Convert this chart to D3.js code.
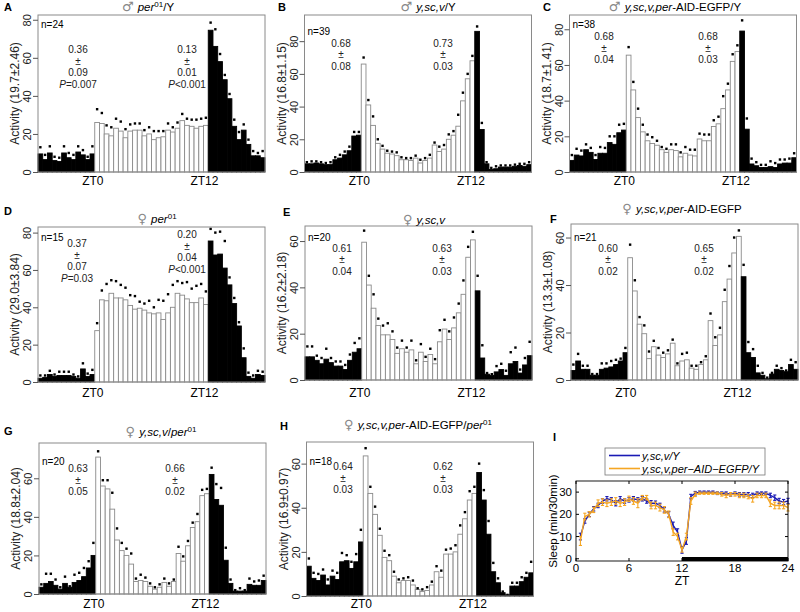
<!DOCTYPE html>
<html><head><meta charset="utf-8">
<script src="https://cdn.jsdelivr.net/npm/d3@7"></script>
<style>
body{margin:0;background:#fff}
text{font-family:"Liberation Sans",Arial,Helvetica,sans-serif}
</style>
</head><body>
<svg id="c" width="800" height="612"></svg>
<script>
// ---------- DATA ----------
const xTickLabels = ["ZT0","ZT12"];

const barsA = [9.5,6.5,10,6,5.5,10,7.5,6.5,10.5,9,6.5,9.5, 26,25.5,20,19,23,21.5,18,21.5,22,22,19,20,17,18,18.5,22,21,23,27,24.5,24,23,24,24.5, 74.5,66,58,48.5,38.5,24,17,22,14.5,8.5,8.5,7.5];
const dotsA = [13,9,13.5,8,7.5,13.5,10,9,13.5,11.5,8,13.5, 33,31,24.5,23.5,28,26.5,22.5,25,25.5,25.5,22,23.5,21.5,21.5,21.5,25.5,23.5,26,30.5,28,27.5,27.5,28,28.5, 78.5,75,62,51,41,27.5,21,25,17,11,10,11];

const barsB = [5,5,5.5,5,4.5,4.5,7.5,8.5,10.5,13,22,22.5, 66,41,28.5,17.5,14,11.5,11,10,7.5,7.5,7,8.5,5.5,7,8.5,16.5,12.5,14,20,22.5,28,43.5,57,68, 86,26,5,1.5,2,3,3,3,3.5,4,3.5,4.5];
const dotsB = [6,6.5,6.5,6,5.5,6,9,10.5,12.5,15.5,24.5,24.5, 70,44,34,20,16,13,12.5,12,9,8.5,8.5,10,7.5,8.5,10.5,18,15.5,16.5,23,25,35,48.5,60,71, 89,30,6,2.5,3.5,4,4,4,4.5,5,5,6];

const barsC = [6.5,9.5,9,12.5,11,7,10.5,10.5,16.5,15.5,22,23.5, 65.5,46,30.5,22.5,17.5,16,15,12.5,11,12.5,12,8.5,10.5,9.5,9,18.5,17.5,17.5,25.5,27,35.5,46,62,67.5, 79,24,4.5,3.5,2.5,2.5,3,2.5,4.5,5,5,8];
const dotsC = [9.5,13,12,15.5,13.5,9.5,14,13.5,20,20,26.5,27, 70,50.5,35.5,26.5,21,19.5,17.5,14,13,15.5,15.5,11,14,12.5,12.5,21.5,21,21,29,31,42.5,49.5,66,71, 85,30,7.5,5.5,4,4,6,5,7,7,7.5,10.5];

const barsD = [2,2.5,4,3,3.5,3.5,3.5,3,2,7,3,4, 27.5,44,43.5,47.5,45,45,44,41,39,39.5,38.5,37,36.5,37,33.5,37,40,47.5,46.5,44.5,42.5,42.5,45,41.5, 75.5,68,68.5,61,52,42,30,13,3,2,4,3.5];
const dotsD = [3.5,3.5,6,4,5.5,5.5,5.5,4,3,10,4.5,6.5, 31.5,49,52.5,54.5,54,52,50.5,46.5,46,43,42,43.5,40,44,43.5,47,52,54,53,53.5,50,51.5,52.5,48.5, 82,80,80.5,75.5,56,45,32,18,5,3.5,6,5.5];

const barsE = [10,10,8.5,7,9,7.5,6,6,4.5,8.5,12,13.5, 59.5,41,31,23.5,19.5,19.5,17.5,11.5,13.5,12,13,7,12,8,11,7,16.5,22,17.5,22.5,29,37,53,60.5, 38.5,9.5,2.5,2,3.5,4.5,2,7,8,3,6.5,10.5];
const dotsE = [14.5,14.5,10.5,9.5,13.5,9.5,8,8,6.5,11,16,18, 64.5,45,37,26.5,23.5,24.5,21,14,17,14,17,8.5,15.5,10,13.5,9,21.5,26,21,27,33,43,57.5,64, 45,15,3,2.5,6,7,4,12,14,4.5,9.5,16.5];

const barsF = [4,8,4.5,4.5,2,2,4.5,5,5.5,6.5,8,11.5, 51.5,37.5,23.5,19.5,9,14,10.5,9.5,11,15.5,6,8,8.5,5,4.5,6.5,8.5,25,14.5,19,33,42.5,53.5,60.5, 43.5,11.5,9.5,3,2,0.5,2.5,4.5,4,3.5,6.5,4.5];
const dotsF = [6.5,11,6,6,2.5,2.5,7,7,8,8.5,9,13.5, 57,42,26.5,23,12,16.5,13.5,11.5,12.5,17,7,11,11.5,6,6,7.5,10,28,18,22,38,48,60,63, 48.5,16,13,6,3,1,3,6,5,4,8.5,7.5];

const barsG = [3.5,5.5,6.5,4.5,2.5,5.5,3.5,6,7,9,13.5,20, 71,56,54.5,44,28,22.5,20,15.5,6.5,7,6.5,4,2.5,3.5,6,4,6.5,21,17,25,34.5,37.5,51,52, 62,49,46,17.5,5.5,1.5,1.5,1.5,5,4.5,4.5,7];
const dotsG = [5,10.5,10.5,7.5,3.5,9,4,10,11,13.5,17,26.5, 74,59,59,52.5,34,26.5,23.5,21,8,10,8.5,5.5,3.5,5,8,5.5,7.5,24.5,19.5,27.5,37,41.5,54,54.5, 65.5,57,55,24,7.5,2,3,2,8,6.5,7,9.5];

const barsH = [13.5,8,7,9.5,5,9,7.5,15.5,16,12.5,15.5,24.5, 63.5,46.5,37,27.5,17.5,16,9,6,7,7,5,3,2,2.5,5,11,8.5,19,19,20,28,35,43.5,46.5, 56,43.5,28,11,6,1.5,0.5,4.5,4.5,6.5,8.5,10.5];
const dotsH = [17,10.5,10,12,7.5,11.5,10.5,19.5,18.5,15.5,19,30, 67,49.5,40.5,30.5,20.5,18.5,11,7.5,8,8.5,7,3.5,3,4,6.5,13.5,11.5,21,21.5,23,32,38,47.5,49.5, 60,48,34,15,8,2,0.5,6,6,8.5,10.5,15.5];

// panel I: sleep
const ztI = [0.5,1,1.5,2,2.5,3,3.5,4,4.5,5,5.5,6,6.5,7,7.5,8,8.5,9,9.5,10,10.5,11,11.5,12,12.5,13,13.5,14,14.5,15,15.5,16,16.5,17,17.5,18,18.5,19,19.5,20,20.5,21,21.5,22,22.5,23,23.5,24];
const sleepBlue = [10,17,20,22.5,24,26,27,26.5,25,27,26,26.5,27,26.5,27,26,25,25,24,22,20,15,12,4,8,28,29.5,30,30,30,30,29.5,29.5,29.5,29,29.5,29,29,29,28.5,29.5,29.5,29.5,28.5,27.5,26,25.5,26];
const semBlue = [1.5,1,1,1,1,1,1,1,1.2,1,1,1,1,1,1,1,1.2,1,1,1,1.2,1.5,1.5,1.5,1.5,1,0.8,0.5,0.5,0.5,0.5,0.6,0.6,0.6,0.8,0.6,0.8,0.8,0.8,1,0.6,0.6,0.6,1,1.2,1.2,1.2,1.2];
const sleepOrange = [8,19,20,22,25,25.5,25,25.5,26,25,25.5,27,26,25,27.5,27.5,24,24,23,22,20,12,10,4,10,26,29,29.5,29.5,29.5,29.5,29.5,29,28.5,29,29,28.5,28.5,28,27,28.5,28.5,28.5,25,24,24,24,23];
const semOrange = [2,1.5,1.2,1.2,1.5,1.5,1.5,1.5,1.5,1.5,1.5,1.2,1.5,2,1,1,1.5,1.5,1.5,1.5,1.5,1.5,1.5,1,1.5,1.5,1,0.5,0.5,0.5,0.5,0.5,0.8,1,0.8,0.8,1,1,1,1.5,1,1,1,1.5,1.5,1.5,1.5,1.5];
const ticksIx = [0,6,12,18,24];
const ticksIy = [0,10,20,30];

// ---------- TEXT ----------
const M = "\u2642 ", F = "\u2640 ";
const titles = {
  A:[{t:M,g:1},{t:"per",i:1},{t:"01",s:1},{t:"/Y"}],
  B:[{t:M,g:1},{t:"y,sc,v",i:1},{t:"/Y"}],
  C:[{t:M,g:1},{t:"y,sc,v,per",i:1},{t:"-AID-EGFP/Y"}],
  D:[{t:F,g:1},{t:"per",i:1},{t:"01",s:1}],
  E:[{t:F,g:1},{t:"y,sc,v",i:1}],
  F:[{t:F,g:1},{t:"y,sc,v,per",i:1},{t:"-AID-EGFP"}],
  G:[{t:F,g:1},{t:"y,sc,v",i:1},{t:"/"},{t:"per",i:1},{t:"01",s:1}],
  H:[{t:F,g:1},{t:"y,sc,v,per",i:1},{t:"-AID-EGFP/"},{t:"per",i:1},{t:"01",s:1}]
};

// ---------- LAYOUT ----------
const W = 227;
const panels = [
 {id:"A",bars:barsA,dots:dotsA,ymax:82.5,ticks:[0,20,40,60,80],x:38,top:15,bottom:172,ylab:"Activity (19.7\u00b12.46)",tx:148,ty:11,lx:4,ly:11,n:"n=24",ny:28,zy:185,
  ann:[{cx:78,ys:[53,64.5,76,87.5],lines:[["0.36"],["\u00b1"],["0.09"],["P",1,"=0.007"]]},{cx:187,ys:[53,64.5,76,87.5],lines:[["0.13"],["\u00b1"],["0.01"],["P",1,"<0.001"]]}]},
 {id:"B",bars:barsB,dots:dotsB,ymax:96,ticks:[0,20,40,60,80],x:304.5,top:15,bottom:172,ylab:"Activity (16.8\u00b11.15)",tx:428,ty:11,lx:278,ly:11,n:"n=39",ny:35,zy:185,
  ann:[{cx:341,ys:[46.5,58,69.5],lines:[["0.68"],["\u00b1"],["0.08"]]},{cx:443,ys:[46.5,58,69.5],lines:[["0.73"],["\u00b1"],["0.03"]]}]},
 {id:"C",bars:barsC,dots:dotsC,ymax:88,ticks:[0,20,40,60,80],x:569.5,top:15,bottom:172,ylab:"Activity (18.7\u00b11.41)",tx:675,ty:11,lx:543,ly:11,n:"n=38",ny:28,zy:185,
  ann:[{cx:604,ys:[40,51.5,63],lines:[["0.68"],["\u00b1"],["0.04"]]},{cx:708,ys:[40,51.5,63],lines:[["0.68"],["\u00b1"],["0.03"]]}]},
 {id:"D",bars:barsD,dots:dotsD,ymax:83,ticks:[0,20,40,60,80],x:38,top:227,bottom:382,ylab:"Activity (29.0\u00b13.84)",tx:157,ty:223,lx:4,ly:215,n:"n=15",ny:241,zy:397,
  ann:[{cx:77,ys:[247,258.5,270,281.5],lines:[["0.37"],["\u00b1"],["0.07"],["P",1,"=0.03"]]},{cx:187,ys:[238,249.5,261,272.5],lines:[["0.20"],["\u00b1"],["0.04"],["P",1,"<0.001"]]}]},
 {id:"E",bars:barsE,dots:dotsE,ymax:66.5,ticks:[0,20,40,60],x:305,top:226,bottom:380,ylab:"Activity (16.2\u00b12.18)",tx:424,ty:224,lx:283,ly:216,n:"n=20",ny:241,zy:397,
  ann:[{cx:342,ys:[251.5,263,274.5],lines:[["0.61"],["\u00b1"],["0.04"]]},{cx:442,ys:[251.5,263,274.5],lines:[["0.63"],["\u00b1"],["0.03"]]}]},
 {id:"F",bars:barsF,dots:dotsF,ymax:65.7,ticks:[0,20,40,60],x:571,top:224,bottom:380,ylab:"Activity (13.3\u00b11.08)",tx:682,ty:213,lx:550,ly:223,n:"n=21",ny:241,zy:397,
  ann:[{cx:608,ys:[251.5,263,274.5],lines:[["0.60"],["\u00b1"],["0.02"]]},{cx:704,ys:[251.5,263,274.5],lines:[["0.65"],["\u00b1"],["0.02"]]}]},
 {id:"G",bars:barsG,dots:dotsG,ymax:78.3,ticks:[0,20,40,60],x:39,top:443,bottom:594,ylab:"Activity (18.8\u00b12.04)",tx:161,ty:436,lx:4,ly:435,n:"n=20",ny:465,zy:608,
  ann:[{cx:78,ys:[472,483.5,495],lines:[["0.63"],["\u00b1"],["0.05"]]},{cx:175,ys:[472,483.5,495],lines:[["0.66"],["\u00b1"],["0.02"]]}]},
 {id:"H",bars:barsH,dots:dotsH,ymax:69.8,ticks:[0,20,40,60],x:306.5,top:442,bottom:596,ylab:"Activity (16.9\u00b10.97)",tx:418,ty:429,lx:280,ly:430,n:"n=18",ny:465,zy:608,
  ann:[{cx:343,ys:[470,481.5,493],lines:[["0.64"],["\u00b1"],["0.03"]]},{cx:443,ys:[470,481.5,493],lines:[["0.62"],["\u00b1"],["0.03"]]}]}
];

const svg = d3.select("#c");

function rich(sel, segs){
  let up=false;
  segs.forEach(s=>{
    const t = sel.append("tspan").text(s.t);
    if(s.i) t.attr("font-style","italic");
    if(s.g) t.attr("fill","#888").attr("font-size","13px").style("font-family","'DejaVu Sans',sans-serif");
    if(s.s){ t.attr("font-size","8px").attr("dy",-4); up=true; }
    else if(up){ t.attr("dy",4); up=false; }
  });
}

panels.forEach(p=>{
  const g = svg.append("g");
  const x = d3.scaleBand().domain(d3.range(p.bars.length)).range([p.x, p.x+W]).paddingInner(0).paddingOuter(0);
  const y = d3.scaleLinear().domain([0,p.ymax]).range([p.bottom,p.top]);
  const bw = x.bandwidth();
  const dark = i => i<12 || i>=36;

  g.selectAll("rect.bar").data(p.bars).join("rect").attr("class","bar")
    .attr("x",(d,i)=>x(i)).attr("width",bw)
    .attr("y",d=>y(d)).attr("height",d=>y(0)-y(d))
    .attr("fill",(d,i)=>dark(i)?"#000":"#fff")
    .attr("stroke",(d,i)=>dark(i)?"#000":"#8a8a8a")
    .attr("stroke-width",0.9);

  g.selectAll("rect.dot").data(p.dots).join("rect").attr("class","dot")
    .attr("x",(d,i)=>x(i)+bw/2-1.2).attr("y",d=>y(d)-1.2)
    .attr("width",2.4).attr("height",2.4).attr("fill","#000");

  g.append("rect").attr("x",p.x).attr("y",p.top).attr("width",W).attr("height",p.bottom-p.top)
    .attr("fill","none").attr("stroke","#8a8a8a").attr("stroke-width",1);

  const ax = g.append("g").attr("transform",`translate(${p.x},0)`)
    .call(d3.axisLeft(y).tickValues(p.ticks).tickSize(5).tickFormat(d3.format("d")));
  ax.select(".domain").remove();
  ax.selectAll(".tick line").attr("stroke","#555");
  ax.selectAll(".tick text").attr("transform","rotate(-90)").attr("x",0).attr("y",-7).attr("dy",0)
    .attr("text-anchor","middle").attr("font-size",11).attr("fill","#222")
    .style("font-family",'"Liberation Sans",Arial,sans-serif');

  g.append("text").attr("x",x(11)+bw*0.6).attr("y",p.zy).attr("text-anchor","middle").attr("font-size",12).text(xTickLabels[0]);
  g.append("text").attr("x",x(35)+bw*0.2).attr("y",p.zy).attr("text-anchor","middle").attr("font-size",12).text(xTickLabels[1]);

  g.append("text").attr("transform",`translate(${p.x-19},${(p.top+p.bottom)/2}) rotate(-90)`)
    .attr("text-anchor","middle").attr("font-size",12).attr("fill","#222").text(p.ylab);

  const tt = g.append("text").attr("x",p.tx).attr("y",p.ty).attr("text-anchor","middle").attr("font-size",11.5);
  rich(tt, titles[p.id]);

  g.append("text").attr("x",p.lx).attr("y",p.ly).attr("font-size",11).attr("font-weight","bold").text(p.id);

  g.append("text").attr("x",p.x+3).attr("y",p.ny).attr("font-size",10).text(p.n);

  p.ann.forEach(a=>{
    a.lines.forEach((ln,k)=>{
      const t = g.append("text").attr("x",a.cx).attr("y",a.ys[k]).attr("text-anchor","middle").attr("font-size",10).attr("fill","#222");
      if(ln.length===1) t.text(ln[0]);
      else { t.append("tspan").attr("font-style","italic").text(ln[0]); t.append("tspan").text(ln[2]); }
    });
  });
});

// ---------- PANEL I ----------
(function(){
  const g = svg.append("g");
  const x = d3.scaleLinear().domain([0,24]).range([576,788]);
  const y = d3.scaleLinear().domain([-1,35]).range([561,481]);
  g.append("rect").attr("x",x(12)).attr("width",x(24)-x(12)).attr("y",y(0.8)).attr("height",y(-1)-y(0.8)).attr("fill","#000");
  const series = [{v:sleepBlue,e:semBlue,c:"#1a1ab4"},{v:sleepOrange,e:semOrange,c:"#f5a623"}];
  series.forEach(s=>{
    g.append("path").datum(s.v).attr("fill","none").attr("stroke",s.c).attr("stroke-width",1.4)
      .attr("d",d3.line().x((d,i)=>x(ztI[i])).y(d=>y(d)));
    const eb = g.append("g").attr("stroke",s.c).attr("stroke-width",1.1);
    s.v.forEach((d,i)=>{
      const cx=x(ztI[i]);
      eb.append("line").attr("x1",cx).attr("x2",cx).attr("y1",y(d-s.e[i])).attr("y2",y(d+s.e[i]));
      eb.append("line").attr("x1",cx-1.6).attr("x2",cx+1.6).attr("y1",y(d-s.e[i])).attr("y2",y(d-s.e[i]));
      eb.append("line").attr("x1",cx-1.6).attr("x2",cx+1.6).attr("y1",y(d+s.e[i])).attr("y2",y(d+s.e[i]));
    });
  });
  g.append("rect").attr("x",576).attr("y",481).attr("width",212).attr("height",80).attr("fill","none").attr("stroke","#000").attr("stroke-width",0.9);
  ticksIx.forEach(t=>{
    g.append("line").attr("x1",x(t)).attr("x2",x(t)).attr("y1",y(-1)).attr("y2",y(-1)-3).attr("stroke","#000");
    g.append("line").attr("x1",x(t)).attr("x2",x(t)).attr("y1",y(35)).attr("y2",y(35)+3).attr("stroke","#000");
    g.append("text").attr("x",x(t)).attr("y",572).attr("text-anchor","middle").attr("font-size",11.5).text(t);
  });
  ticksIy.forEach(t=>{
    g.append("line").attr("x1",x(0)).attr("x2",x(0)+3).attr("y1",y(t)).attr("y2",y(t)).attr("stroke","#000");
    g.append("line").attr("x1",x(24)).attr("x2",x(24)-3).attr("y1",y(t)).attr("y2",y(t)).attr("stroke","#000");
    g.append("text").attr("x",x(0)-4).attr("y",y(t)+4).attr("text-anchor","end").attr("font-size",11.5).text(t);
  });
  g.append("text").attr("x",x(12)).attr("y",585).attr("text-anchor","middle").attr("font-size",12).text("ZT");
  g.append("text").attr("transform",`translate(557,521) rotate(-90)`).attr("text-anchor","middle").attr("font-size",11.5).text("Sleep (min/30min)");
  g.append("rect").attr("x",605).attr("y",448).attr("width",160).attr("height",27).attr("fill","#fff").attr("stroke","#777").attr("stroke-width",0.8);
  [["#1a1ab4",455.5],["#f5a623",468.5]].forEach(c=>{
    g.append("line").attr("x1",609).attr("x2",640).attr("y1",c[1]).attr("y2",c[1]).attr("stroke",c[0]).attr("stroke-width",1.6);
  });
  const l1 = g.append("text").attr("x",642).attr("y",459.5).attr("font-size",11);
  l1.append("tspan").attr("font-style","italic").text("y,sc,v");
  l1.append("tspan").attr("font-style","italic").text("/Y");
  const l2 = g.append("text").attr("x",642).attr("y",472.5).attr("font-size",11);
  l2.append("tspan").attr("font-style","italic").text("y,sc,v,per");
  l2.append("tspan").attr("font-style","italic").text("\u2212AID\u2212EGFP/Y");
  g.append("text").attr("x",553).attr("y",441).attr("font-size",11).attr("font-weight","bold").text("I");
})();
</script>
</body></html>
